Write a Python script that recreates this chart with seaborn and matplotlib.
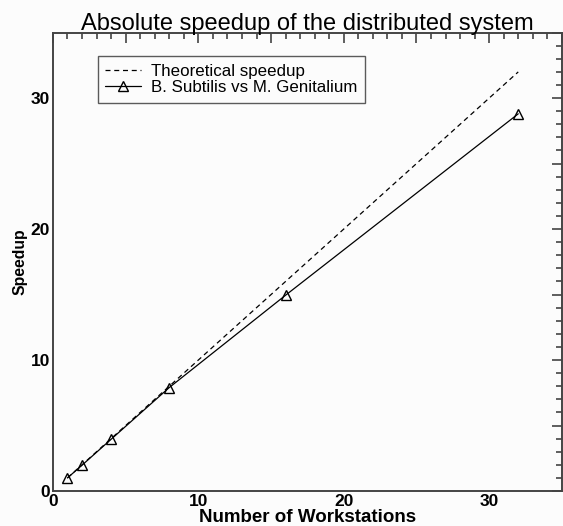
import matplotlib
matplotlib.use("Agg")
import matplotlib.pyplot as plt
import seaborn as sns
from matplotlib.ticker import MultipleLocator, FuncFormatter

# Data
workstations = [1, 2, 4, 8, 16, 32]
theoretical = [1, 2, 4, 8, 16, 32]
measured = [1.0, 1.97, 3.95, 7.9, 14.95, 28.8]

sns.set_style("white")
plt.rcParams['font.family'] = ['Liberation Sans', 'DejaVu Sans']
plt.rcParams['text.color'] = 'black'
plt.rcParams['axes.labelcolor'] = 'black'
plt.rcParams['xtick.labelcolor'] = 'black'
plt.rcParams['ytick.labelcolor'] = 'black'

fig = plt.figure(figsize=(5.63, 5.26), dpi=100)
fig.patch.set_facecolor('#fcfcfc')
ax = fig.add_axes([0.094, 0.0665, 0.904, 0.8715])
ax.set_facecolor('#fcfcfc')

# Theoretical (ideal) speedup
sns.lineplot(x=workstations, y=theoretical, ax=ax, color='black', lw=0.9,
             linestyle=(0, (4, 3)), label='Theoretical speedup')

# Measured speedup
sns.lineplot(x=workstations, y=measured, ax=ax, color='black', lw=0.9,
             marker='^', markersize=7.5, markerfacecolor='none',
             markeredgecolor='black', markeredgewidth=1.0,
             label='B. Subtilis vs M. Genitalium')

ax.set_xlim(0, 35)
ax.set_ylim(0, 35)

ax.xaxis.set_major_locator(MultipleLocator(5))
ax.yaxis.set_major_locator(MultipleLocator(5))
ax.xaxis.set_minor_locator(MultipleLocator(1))
ax.yaxis.set_minor_locator(MultipleLocator(1))
only_tens = FuncFormatter(lambda v, p: '%d' % v if int(round(v)) % 10 == 0 else '')
ax.xaxis.set_major_formatter(only_tens)
ax.yaxis.set_major_formatter(only_tens)

ax.tick_params(which='both', direction='in', top=True, right=True, color='#444444', width=1.2)
ax.tick_params(which='major', length=7)
ax.tick_params(which='minor', length=4.5)
ax.tick_params(axis='both', labelsize=12.5, pad=2, labelcolor='black')
for lbl in ax.get_xticklabels() + ax.get_yticklabels():
    lbl.set_fontweight('bold')

for sp in ax.spines.values():
    sp.set_color('#444444')
    sp.set_linewidth(1.4)

ax.set_title('Absolute speedup of the distributed system', fontsize=17, pad=2, color='black')
ax.set_xlabel('Number of Workstations', fontsize=13.5, fontweight='bold', labelpad=0)
ax.set_ylabel('Speedup', fontsize=11.3, fontweight='bold', labelpad=2)

leg = ax.legend(loc='upper left', bbox_to_anchor=(0.088, 0.949), borderaxespad=0,
                fontsize=12.2, frameon=True, fancybox=False, handlelength=2.1,
                borderpad=0.45, labelspacing=0.1, handletextpad=0.6)
leg.get_frame().set_edgecolor('#333333')
leg.get_frame().set_linewidth(1.0)
leg.get_frame().set_facecolor('#fcfcfc')
for t in leg.get_texts():
    t.set_color('black')

fig.savefig('out.png', dpi=100, facecolor=fig.get_facecolor())
